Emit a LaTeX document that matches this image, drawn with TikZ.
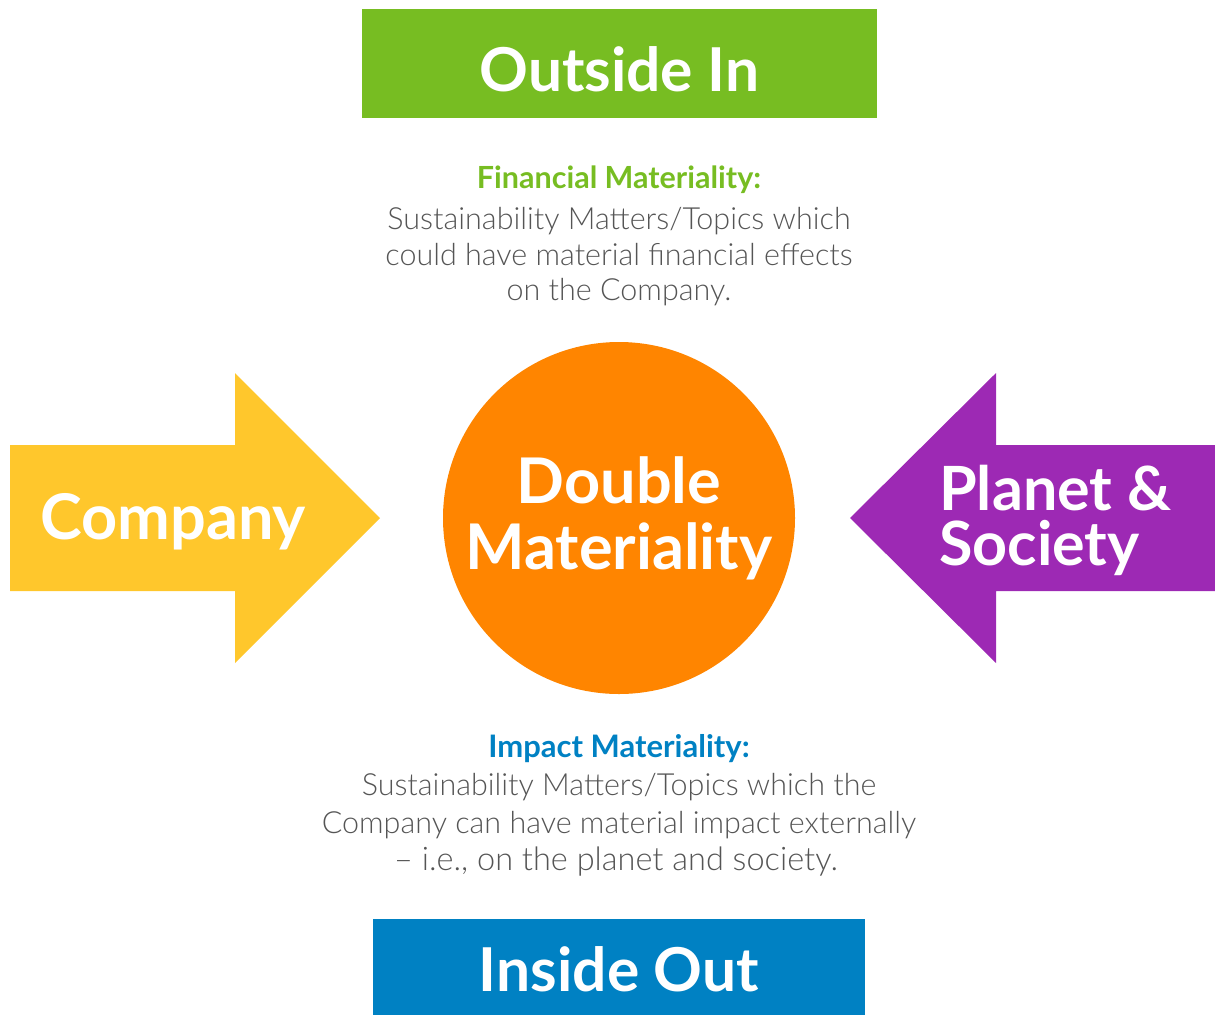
\documentclass[tikz,border=0pt]{standalone}
\usepackage{fontspec}
\setmainfont{Lato}
\newfontfamily\latolight{Lato Light}
\definecolor{dmgreen}{HTML}{77BD22}
\definecolor{dmblue}{HTML}{0081C3}
\definecolor{dmorange}{HTML}{FF8500}
\definecolor{dmyellow}{HTML}{FFC72C}
\definecolor{dmpurple}{HTML}{9D29B4}
\definecolor{dmgray}{HTML}{555555}
\begin{document}
\begin{tikzpicture}[x=1pt,y=-1pt,
  banner/.style={inner sep=0pt, anchor=base, text=white, font=\fontsize{60.5}{70}\selectfont\bfseries},
  bigtext/.style={inner sep=0pt, anchor=base, text=white, font=\fontsize{63}{63}\selectfont\bfseries},
  headtext/.style={inner sep=0pt, anchor=base, font=\fontsize{30.5}{30}\selectfont\bfseries},
  bodytext/.style={inner sep=0pt, anchor=base, text=dmgray, font=\fontsize{30.5}{37}\selectfont\latolight}]
  \useasboundingbox (0,0) rectangle (1215,1015);

  % top and bottom banners
  \fill[dmgreen] (362,9) rectangle (877,118);
  \node[banner] (outin) at (619.5,91) {Outside In};
  \fill[dmblue] (373,919) rectangle (865,1015);
  \node[banner] (inout) at (619,991) {Inside Out};

  % central circle with its two-line title
  \node[circle, fill=dmorange, minimum size=352pt, inner sep=0pt] (dm) at (619,518) {};
  \node[bigtext] (dmtop) at (619,503) {Double};
  \node[bigtext] (dmbot) at (619,569) {Materiality};

  % left arrow (company)
  \fill[dmyellow] (10,445) -- (235,445) -- (235,373) -- (380,518) -- (235,663) -- (235,591) -- (10,591) -- cycle;
  \node[bigtext] (company) at (173,539) {Company};

  % right arrow (planet & society)
  \fill[dmpurple] (1215,445) -- (996,445) -- (996,373) -- (850,518) -- (996,663) -- (996,591) -- (1215,591) -- cycle;
  \node[bigtext, font=\fontsize{61}{61}\selectfont\bfseries, anchor=base west] (planet) at (939,510) {Planet \&};
  \node[bigtext, font=\fontsize{61}{61}\selectfont\bfseries, anchor=base west] (society) at (939,565) {Society};

  % financial materiality text
  \node[headtext, text=dmgreen] (fin0) at (619,188) {Financial Materiality:};
  \node[bodytext] (fin1) at (619,229) {Sustainability Matters/Topics which};
  \node[bodytext] (fin2) at (619,265) {could have material financial effects};
  \node[bodytext] (fin3) at (619,300) {on the Company.};

  % impact materiality text
  \node[headtext, text=dmblue, font=\fontsize{31}{30}\selectfont\bfseries] (imp0) at (619,757) {Impact Materiality:};
  \node[bodytext] (imp1) at (619,795) {Sustainability Matters/Topics which the};
  \node[bodytext] (imp2) at (619,833) {Company can have material impact externally};
  \node[bodytext, font=\fontsize{32.5}{37}\selectfont\latolight] (imp3) at (616,870) {– i.e., on the planet and society.};
\end{tikzpicture}
\end{document}
